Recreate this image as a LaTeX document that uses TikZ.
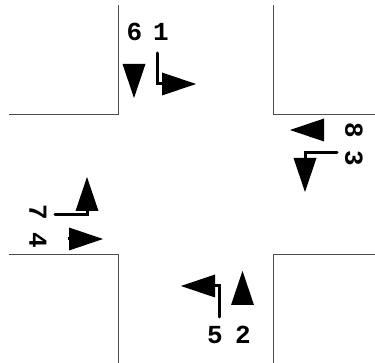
\documentclass[tikz,border=0pt]{standalone}
\usepackage{fontspec}
\setmonofont{Liberation Mono}
\usetikzlibrary{arrows.meta}
\tikzstyle{road} = [draw=black!70, line width=0.9pt]
\tikzstyle{lane} = [line width=3pt, -{Triangle[length=34pt,width=23pt,line width=0pt]}]
\tikzstyle{turn} = [lane, line cap=round]
\tikzstyle{l1} = [inner sep=0pt, font=\ttfamily\bfseries\fontsize{26}{26}\selectfont]
\tikzstyle{l2} = [l1, rotate=-90]

\begin{document}
\begin{tikzpicture}[x=1pt, y=-1pt]
\useasboundingbox (0,0) rectangle (375,363);
% corners of the crossing
\draw[road] (9,114.5) -- (118.5,114.5) -- (118.5,5);
\draw[road] (375,114.5) -- (273.5,114.5) -- (273.5,5);
\draw[road] (9,254.5) -- (118.5,254.5) -- (118.5,363);
\draw[road] (375,254.5) -- (273.5,254.5) -- (273.5,363);
% labels
\node(six)[l1] at (134.5,32) {6};
\node(one)[l1] at (161,32) {1};
\node(eight)[l2] at (354,130) {8};
\node(three)[l2] at (354,158) {3};
\node(seven)[l2] at (38,212) {7};
\node(four)[l2] at (38,240) {4};
\node(five)[l1] at (215,335) {5};
\node(two)[l1] at (243,335) {2};
% free ends of the lanes
\coordinate(A1) at (157,53);
\coordinate(B1) at (196,84);
\coordinate(A6) at (134,64);
\coordinate(B6) at (134,98);
\coordinate(A3) at (337,153);
\coordinate(B3) at (305,192);
\coordinate(A8) at (324,130);
\coordinate(B8) at (290,130);
\coordinate(A7) at (55,215);
\coordinate(B7) at (87,177);
\coordinate(A4) at (68,239);
\coordinate(B4) at (103,239);
\coordinate(A5) at (219,317);
\coordinate(B5) at (181,286);
\coordinate(A2) at (242.5,304.5);
\coordinate(B2) at (242.5,271);
% lanes
\draw[turn] (A1) |- (B1);
\draw[lane] (A6) -- (B6);
\draw[turn] (A3) -| (B3);
\draw[lane] (A8) -- (B8);
\draw[turn] (A7) -| (B7);
\draw[lane] (A4) -- (B4);
\draw[turn] (A5) |- (B5);
\draw[lane] (A2) -- (B2);
\end{tikzpicture}
\end{document}
